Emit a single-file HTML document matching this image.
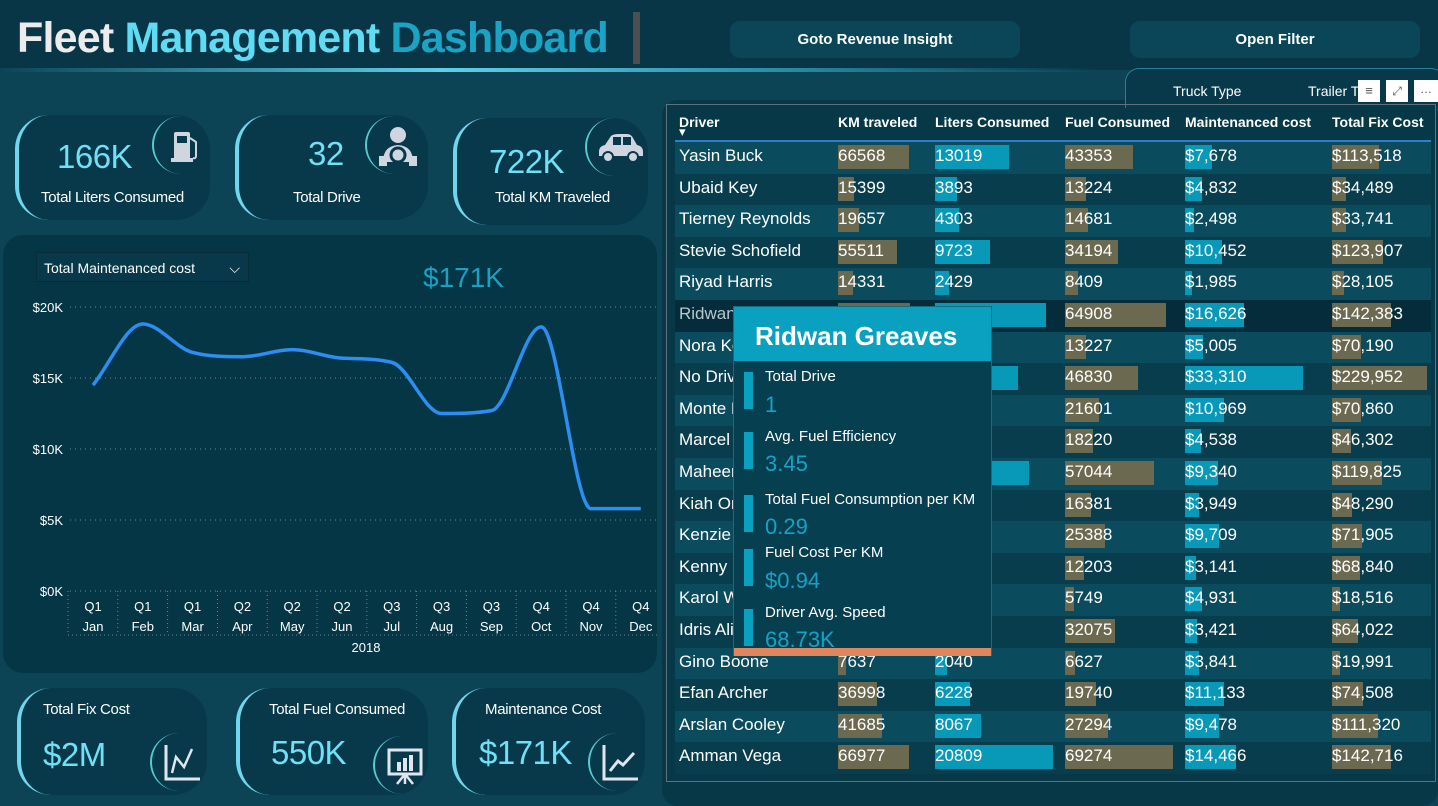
<!DOCTYPE html>
<html><head><meta charset="utf-8"><style>
*{box-sizing:border-box;margin:0;padding:0}
body{width:1438px;height:806px;overflow:hidden;background:#0c4456;font-family:"Liberation Sans",sans-serif;position:relative;color:#fff}
.abs{position:absolute}
.card{position:absolute;background:#07394a;border-radius:34px;border-left:4px solid #6fd6ee}
.kv{position:absolute;color:#6fe0f6;font-size:33px;letter-spacing:-0.5px}
.kl{position:absolute;color:#fff;font-size:15px;letter-spacing:-0.3px}
.ic{position:absolute;width:58px;height:58px;border-radius:50%;border-left:2px solid #5cc;}
.ic svg{position:absolute;left:10px;top:10px}
.btn{position:absolute;background:#0a4658;border-radius:10px;color:#fff;font-weight:bold;font-size:15px;text-align:center;line-height:37px}
.tt-bar{position:absolute;left:10px;width:9px;background:#0aa0c0}
.tt-l{position:absolute;left:31px;font-size:15px;color:#fff}
.tt-v{position:absolute;left:31px;font-size:22px;color:#17a2c4}
</style></head><body>
<div class="abs" style="left:0;top:0;width:1438px;height:70px;background:#083646"></div>
<div class="abs" style="left:0;top:68px;width:1100px;height:4px;background:linear-gradient(90deg,#0c4456,#5fd0ea 40%,#2a8fa8 70%,rgba(12,68,86,0))"></div>
<div class="abs" style="left:17px;top:14px;font-size:43px;font-weight:bold;letter-spacing:-0.8px;white-space:nowrap"><span style="color:#ececec">Fleet</span> <span style="color:#5fdcf4">Management</span> <span style="color:#1aa3c4">Dashboard</span></div>
<div class="abs" style="left:633px;top:12px;width:7px;height:52px;background:#4a4f52"></div>
<div class="btn" style="left:730px;top:21px;width:290px;height:37px">Goto Revenue Insight</div>
<div class="btn" style="left:1130px;top:21px;width:290px;height:37px">Open Filter</div>

<!-- top KPI cards -->
<div class="card" style="left:15px;top:115px;width:195px;height:105px"></div>
<div class="kv" style="left:57px;top:138px">166K</div>
<div class="kl" style="left:41px;top:189px">Total Liters Consumed</div>
<div class="ic" style="left:152px;top:116px"><svg width="40" height="40"><rect x="10" y="6" width="16" height="28" rx="2" fill="#cfd6e0"/><rect x="13" y="10" width="10" height="7" fill="#07394a"/><rect x="7" y="32" width="22" height="4" fill="#cfd6e0"/><path d="M26 12 L32 16 L32 30 Q32 33 29 32" stroke="#cfd6e0" stroke-width="2" fill="none"/></svg></div>
<div class="card" style="left:235px;top:115px;width:193px;height:105px"></div>
<div class="kv" style="left:308px;top:135px">32</div>
<div class="kl" style="left:293px;top:189px">Total Drive</div>
<div class="ic" style="left:365px;top:116px"><svg width="44" height="44"><circle cx="21" cy="9" r="8" fill="#cfd6e0"/><path d="M6 36 Q6 20 21 19 Q36 20 36 36 Z" fill="#cfd6e0"/><circle cx="21" cy="29" r="7" fill="none" stroke="#07394a" stroke-width="3"/><rect x="2" y="30" width="8" height="10" fill="#cfd6e0"/><rect x="32" y="30" width="8" height="10" fill="#cfd6e0"/></svg></div>
<div class="card" style="left:453px;top:118px;width:195px;height:107px"></div>
<div class="kv" style="left:489px;top:143px">722K</div>
<div class="kl" style="left:495px;top:189px">Total KM Traveled</div>
<div class="ic" style="left:585px;top:118px"><svg width="46" height="40"><path d="M2 24 Q2 18 8 17 L14 8 Q16 6 22 6 L30 6 Q34 6 36 10 L40 17 Q46 18 46 24 L46 28 L2 28 Z" fill="#cfd6e0"/><circle cx="11" cy="29" r="5" fill="#cfd6e0" stroke="#07394a" stroke-width="2"/><circle cx="36" cy="29" r="5" fill="#cfd6e0" stroke="#07394a" stroke-width="2"/><rect x="16" y="9" width="8" height="8" fill="#07394a"/><rect x="26" y="9" width="8" height="8" fill="#07394a"/></svg></div>

<!-- chart panel -->
<div class="abs" style="left:3px;top:235px;width:654px;height:438px;background:#053646;border-radius:20px"></div>
<div class="abs" style="left:36px;top:252px;width:213px;height:30px;background:#07394a;border:1px solid #0a2a35;font-size:14px;line-height:30px;padding-left:7px">Total Maintenanced cost<span style="position:absolute;right:8px;top:0">⌵</span></div>
<div class="abs" style="left:423px;top:262px;font-size:28px;color:#1aa0c2">$171K</div>
<svg class="abs" style="left:0;top:290px" width="660" height="380" id="chart"></svg>

<!-- bottom KPIs -->
<div class="card" style="left:17px;top:688px;width:190px;height:107px"></div>
<div class="kl" style="left:43px;top:701px">Total Fix Cost</div>
<div class="kv" style="left:43px;top:736px">$2M</div>
<div class="ic" style="left:150px;top:733px"><svg width="40" height="40"><path d="M4 2 L4 36 L38 36" stroke="#e0e6ee" stroke-width="3" fill="none"/><path d="M10 30 L14 14 L22 24 L30 6" stroke="#e0e6ee" stroke-width="2.5" fill="none"/></svg></div>
<div class="card" style="left:236px;top:688px;width:192px;height:107px"></div>
<div class="kl" style="left:269px;top:701px">Total Fuel Consumed</div>
<div class="kv" style="left:271px;top:734px">550K</div>
<div class="ic" style="left:373px;top:736px"><svg width="40" height="40"><rect x="4" y="4" width="32" height="24" fill="none" stroke="#e0e6ee" stroke-width="3"/><rect x="12" y="16" width="4" height="9" fill="#e0e6ee"/><rect x="18" y="12" width="4" height="13" fill="#e0e6ee"/><rect x="24" y="9" width="4" height="16" fill="#e0e6ee"/><path d="M20 28 L12 38 M20 28 L28 38 M20 28 L20 38" stroke="#e0e6ee" stroke-width="2.5"/></svg></div>
<div class="card" style="left:452px;top:688px;width:193px;height:107px"></div>
<div class="kl" style="left:485px;top:701px">Maintenance Cost</div>
<div class="kv" style="left:479px;top:734px">$171K</div>
<div class="ic" style="left:588px;top:733px"><svg width="40" height="40"><path d="M4 2 L4 36 L38 36" stroke="#e0e6ee" stroke-width="3" fill="none"/><path d="M10 28 L18 18 L23 22 L34 10" stroke="#e0e6ee" stroke-width="3" fill="none"/></svg></div>

<!-- table -->
<div class="abs" style="left:662px;top:100px;width:776px;height:706px;background:#063848;border-radius:16px"></div>
<div class="abs" style="left:1125px;top:68px;width:320px;height:40px;background:#07394a;border:1px solid #2a7f9a;border-bottom:none;border-radius:14px 14px 0 0"></div>
<div class="abs" style="left:1173px;top:83px;font-size:14px">Truck Type</div>
<div class="abs" style="left:1308px;top:83px;font-size:14px">Trailer T</div>
<div class="abs" style="left:1358px;top:80px;width:22px;height:22px;background:#fff;color:#555;font-size:13px;text-align:center;line-height:22px">≡</div>
<div class="abs" style="left:1386px;top:80px;width:22px;height:22px;background:#fff;color:#555;font-size:12px;text-align:center;line-height:22px">⤢</div>
<div class="abs" style="left:1414px;top:80px;width:24px;height:22px;background:#fff;color:#555;font-size:12px;text-align:center;line-height:18px">…</div>
<div class="abs" id="table" style="left:666px;top:104px;width:770px;height:678px;border:1px solid #5d727a"></div>

<!-- tooltip -->
<div class="abs" style="left:733px;top:306px;width:259px;height:350px;background:#063f50;border:1px solid #1a6a80">
 <div class="abs" style="left:0;top:0;width:257px;height:54px;background:#0aa0c0;font-size:26px;font-weight:bold;padding:14px 0 0 21px">Ridwan Greaves</div>
 <div class="tt-bar" style="top:65px;height:37px"></div><div class="tt-l" style="top:61px">Total Drive</div><div class="tt-v" style="top:85px">1</div>
 <div class="tt-bar" style="top:125px;height:37px"></div><div class="tt-l" style="top:121px">Avg. Fuel Efficiency</div><div class="tt-v" style="top:144px">3.45</div>
 <div class="tt-bar" style="top:188px;height:37px"></div><div class="tt-l" style="top:184px">Total Fuel Consumption per KM</div><div class="tt-v" style="top:207px">0.29</div>
 <div class="tt-bar" style="top:242px;height:37px"></div><div class="tt-l" style="top:237px">Fuel Cost Per KM</div><div class="tt-v" style="top:261px">$0.94</div>
 <div class="tt-bar" style="top:302px;height:37px"></div><div class="tt-l" style="top:297px">Driver Avg. Speed</div><div class="tt-v" style="top:320px">68.73K</div>
 <div class="abs" style="left:0;top:341px;width:257px;height:8px;background:#e0865e"></div>
</div>

<script>
const months=["Jan","Feb","Mar","Apr","May","Jun","Jul","Aug","Sep","Oct","Nov","Dec"];
const quarters=["Q1","Q1","Q1","Q2","Q2","Q2","Q3","Q3","Q3","Q4","Q4","Q4"];
const maintCost=[14.5,18.8,16.8,16.5,17.0,16.4,16.1,12.5,12.7,18.6,5.8,5.8];
const yTicks=[0,5,10,15,20];

const svg=document.getElementById('chart');const NS='http://www.w3.org/2000/svg';
const y=v=>301-v*14.2; const x=i=>93+i*49.8;
function mk(t,a){const e=document.createElementNS(NS,t);for(const k in a)e.setAttribute(k,a[k]);svg.appendChild(e);return e;}
yTicks.forEach(t=>{
 const l=mk('line',{x1:70,x2:660,y1:y(t),y2:y(t),stroke:'#6a8a96','stroke-dasharray':'1 4'});
 
 const tx=mk('text',{x:63,y:y(t)+5,'text-anchor':'end',fill:'#fff','font-size':13,'font-family':'Liberation Sans'});
 tx.textContent='$'+t+'K';
});
months.forEach((m,i)=>{
 const a=mk('text',{x:x(i),y:y(0)+20,'text-anchor':'middle',fill:'#fff','font-size':13,'font-family':'Liberation Sans'});
 a.textContent=quarters[i];
 const b=mk('text',{x:x(i),y:y(0)+40,'text-anchor':'middle',fill:'#fff','font-size':13,'font-family':'Liberation Sans'});
 b.textContent=m;
 const s=mk('line',{x1:x(i)-25,x2:x(i)-25,y1:y(0),y2:y(0)+44,stroke:'#6a8a96','stroke-dasharray':'1 3'});
 
});
const bl=mk('line',{x1:68,x2:660,y1:y(0)+44,y2:y(0)+44,stroke:'#6a8a96','stroke-dasharray':'1 3'});

const yr=mk('text',{x:366,y:y(0)+61,'text-anchor':'middle',fill:'#fff','font-size':13,'font-family':'Liberation Sans'});
yr.textContent='2018';
// monotone cubic interpolation
const X=maintCost.map((v,i)=>x(i)),Y=maintCost.map(v=>y(v)),n=X.length;
const dl=[],m=[];for(let i=0;i<n-1;i++)dl.push((Y[i+1]-Y[i])/(X[i+1]-X[i]));
m[0]=dl[0];m[n-1]=dl[n-2];
for(let i=1;i<n-1;i++){m[i]=(dl[i-1]*dl[i]<=0)?0:(dl[i-1]+dl[i])/2;}
for(let i=0;i<n-1;i++){if(dl[i]===0){m[i]=0;m[i+1]=0;continue;}const a=m[i]/dl[i],b=m[i+1]/dl[i],s=a*a+b*b;if(s>9){const t=3/Math.sqrt(s);m[i]=t*a*dl[i];m[i+1]=t*b*dl[i];}}
let d='M'+X[0]+','+Y[0];
for(let i=0;i<n-1;i++){const h=(X[i+1]-X[i])/3;d+=` C${X[i]+h},${Y[i]+m[i]*h} ${X[i+1]-h},${Y[i+1]-m[i+1]*h} ${X[i+1]},${Y[i+1]}`;}
const ln=mk('path',{d:d,fill:'none',stroke:'#2b8ef0','stroke-width':3.5});


// table data
const drivers=["Yasin Buck","Ubaid Key","Tierney Reynolds","Stevie Schofield","Riyad Harris","Ridwan Greaves","Nora Kerr","No Driver","Monte Hale","Marcel Ruiz","Maheen Lowe","Kiah Oneill","Kenzie Pope","Kenny Doyle","Karol Ward","Idris Ali","Gino Boone","Efan Archer","Arslan Cooley","Amman Vega"];
const kmTraveled=[66568,15399,19657,55511,14331,68200,20100,71000,30500,26800,80100,24100,38200,18300,8700,47500,7637,36998,41685,66977];
const litersConsumed=[13019,3893,4303,9723,2429,19500,3960,14600,6480,5400,16500,4900,7600,3700,1700,9600,2040,6228,8067,20809];
const fuelConsumed=[43353,13224,14681,34194,8409,64908,13227,46830,21601,18220,57044,16381,25388,12203,5749,32075,6627,19740,27294,69274];
const maintenanceCost=[7678,4832,2498,10452,1985,16626,5005,33310,10969,4538,9340,3949,9709,3141,4931,3421,3841,11133,9478,14466];
const totalFixCost=[113518,34489,33741,123907,28105,142383,70190,229952,70860,46302,119825,48290,71905,68840,18516,64022,19991,74508,111320,142716];

const tbl=document.getElementById('table');
function el(html,css){const d=document.createElement('div');d.style.cssText='position:absolute;'+css;d.innerHTML=html;tbl.appendChild(d);return d;}
const cols=[{h:'Driver',x:12},{h:'KM traveled',x:171,arr:kmTraveled,w:85,c:'#6b6a50',f:v=>v},{h:'Liters Consumed',x:268,arr:litersConsumed,w:118,c:'#0898b8',f:v=>v},{h:'Fuel Consumed',x:398,arr:fuelConsumed,w:108,c:'#6b6a50',f:v=>v},{h:'Maintenanced cost',x:518,arr:maintenanceCost,w:118,c:'#0898b8',f:v=>'$'+v.toLocaleString('en-US')},{h:'Total Fix Cost',x:665,arr:totalFixCost,w:95,c:'#6b6a50',f:v=>'$'+v.toLocaleString('en-US')}];
cols.forEach(c=>{const h=el(c.h,`left:${c.x}px;top:9px;font-size:14px;font-weight:bold;white-space:nowrap`);
 });
el('▾','left:12px;top:19px;font-size:13px');
el('','left:8px;top:35px;width:756px;height:2px;background:#2b7fd0');
const maxes=cols.map(c=>c.arr?Math.max(...c.arr):0);
drivers.forEach((n,i)=>{const top=37+i*31.6;
 const r=el('',`left:8px;top:${top}px;width:756px;height:31.6px;background:${i==5?'#042c3a':(i%2==0?'#0a4b5e':'#083d4e')}`);
 
 const nm=el(n,`left:12px;top:${top+4}px;font-size:17px;white-space:nowrap;color:${i==5?'#b8c8cc':'#fff'}`);
 
 cols.forEach((c,j)=>{if(!c.arr)return;const v=c.arr[i];
  const b=el('',`left:${c.x}px;top:${top+3}px;height:24px;width:${v/maxes[j]*c.w}px;background:${c.c}`);
  
  const t=el(c.f(v),`left:${c.x}px;top:${top+4}px;font-size:17px;white-space:nowrap`);
  });
});
</script>
</body></html>
